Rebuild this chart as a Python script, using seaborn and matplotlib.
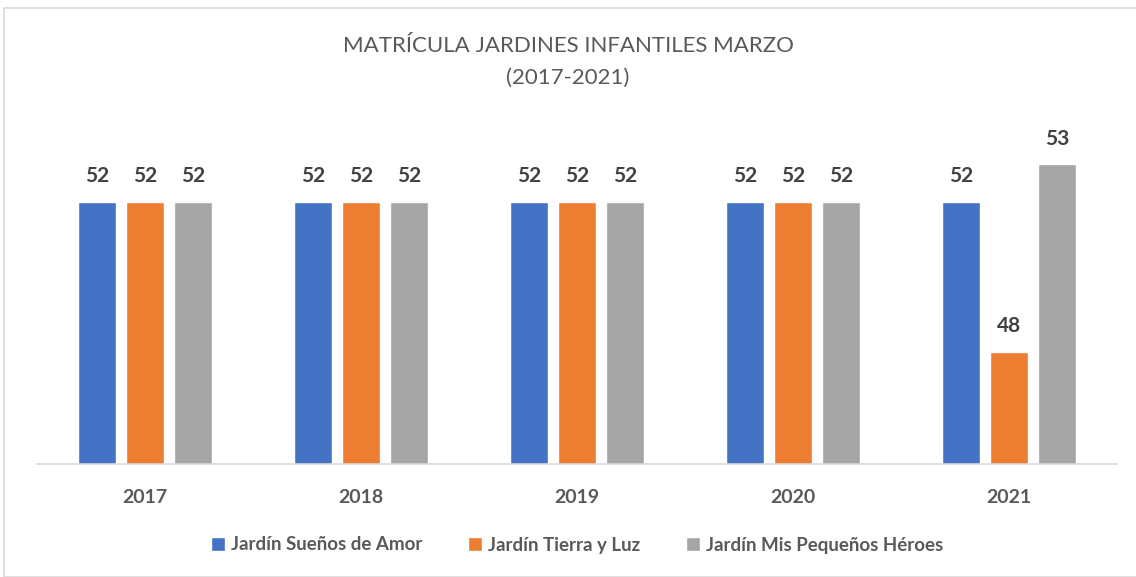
import matplotlib
matplotlib.use("Agg")
import matplotlib.pyplot as plt
import seaborn as sns
import pandas as pd
from matplotlib.patches import Rectangle

years = ["2017", "2018", "2019", "2020", "2021"]
series_names = ["Jardín Sueños de Amor", "Jardín Tierra y Luz", "Jardín Mis Pequeños Héroes"]
suenos = [52, 52, 52, 52, 52]
tierra = [52, 52, 52, 52, 48]
heroes = [52, 52, 52, 52, 53]
colors = ["#4472C4", "#ED7D31", "#A5A5A5"]

rows = []
for name, vals in zip(series_names, [suenos, tierra, heroes]):
    for y, v in zip(years, vals):
        rows.append({"Año": y, "Jardín": name, "Matrícula": v})
df = pd.DataFrame(rows)

sns.set_theme(style="white")
plt.rcParams['font.family'] = ['Lato', 'DejaVu Sans']

fig = plt.figure(figsize=(11.36, 5.77), dpi=100)
ax = fig.add_axes([37/1136, 1-464/577, 1080/1136, 337.5/577])

sns.barplot(data=df, x="Año", y="Matrícula", hue="Jardín", order=years,
            hue_order=series_names, palette=colors, width=0.667, gap=0.2,
            ax=ax, saturation=1, legend=True)

ax.set_ylim(45, 54)
ax.set_xlim(-0.5, 4.5)
for c in ax.containers:
    ax.bar_label(c, fmt="%d", padding=11, fontsize=15, fontweight="bold", color="#404040")

ax.set_yticks([])
ax.set_xlabel("")
ax.set_ylabel("")
for s in ["top", "right", "left"]:
    ax.spines[s].set_visible(False)
ax.spines["bottom"].set_color("#D9D9D9")
ax.spines["bottom"].set_linewidth(1.2)
ax.tick_params(axis="x", length=0, pad=18, labelsize=14, labelcolor="#595959")
for t in ax.get_xticklabels():
    t.set_fontweight("bold")

leg = ax.legend(loc="center", bbox_to_anchor=(0.5, (545-464)/-337.5), ncol=3, frameon=False,
                fontsize=13.5, handlelength=0.75, handleheight=0.75, columnspacing=2.4, handletextpad=0.35,
                bbox_transform=ax.transAxes)
for t in leg.get_texts():
    t.set_fontweight("bold")
    t.set_color("#595959")

fig.text(0.5, 1-46/577, "MATRÍCULA JARDINES INFANTILES MARZO", ha="center", va="center",
         fontsize=16, color="#595959")
fig.text(0.5, 1-78/577, "(2017-2021)", ha="center", va="center", fontsize=16, color="#595959")

fig.patches.append(Rectangle((4/1136, 0.0), 1.2, 1-8/577, transform=fig.transFigure,
                             fill=False, edgecolor="#D9D9D9", linewidth=1.2))

fig.savefig("out.png", dpi=100)
